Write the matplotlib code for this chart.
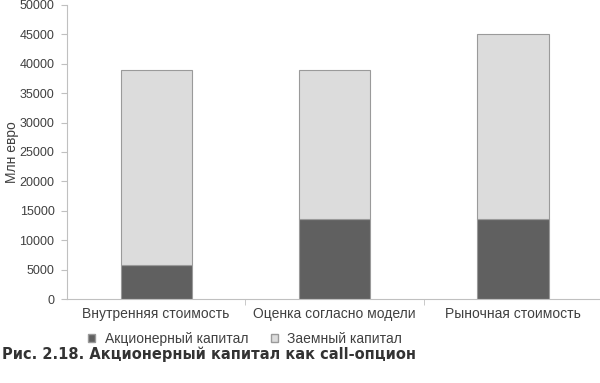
import numpy as np
import matplotlib.pyplot as plt
from matplotlib.patches import Patch

plt.rcParams['font.family'] = ['Liberation Sans', 'DejaVu Sans']

categories = ['Внутренняя стоимость', 'Оценка согласно модели', 'Рыночная стоимость']
equity = [5800, 13600, 13600]
debt = [33200, 25400, 31400]
yticks = [0, 5000, 10000, 15000, 20000, 25000, 30000, 35000, 40000, 45000, 50000]

dark = '#606060'
light = '#dcdcdc'
edge = '#9a9a9a'
txt = '#404040'

fig = plt.figure(figsize=(6, 3.83), dpi=100)
ax = fig.add_axes([67 / 600, 1 - 299 / 383, 535 / 600, 294 / 383])

x = np.arange(len(categories))
ax.bar(x, equity, width=0.40, color=dark, edgecolor=edge, linewidth=0.8)
ax.bar(x, debt, bottom=equity, width=0.40, color=light, edgecolor=edge, linewidth=0.8)

ax.set_xlim(-0.5, 2.5)
ax.set_ylim(0, 50000)
ax.set_yticks(yticks)
ax.set_yticklabels([str(v) for v in yticks], fontsize=9, color=txt)
ax.set_xticks(x)
ax.set_xticklabels(categories, fontsize=10, color=txt)
ax.tick_params(axis='x', length=0, pad=6)
ax.set_xticks([0.5, 1.5], minor=True)
ax.tick_params(axis='x', which='minor', length=4, color='#c0c0c0', direction='out')
ax.tick_params(axis='y', length=4, color='#c0c0c0', pad=5)

for s in ['top', 'right']:
    ax.spines[s].set_visible(False)
ax.spines['left'].set_color('#c0c0c0')
ax.spines['bottom'].set_color('#c0c0c0')

ax.set_ylabel('Млн евро', fontsize=10, color=txt)
ax.yaxis.set_label_coords(-0.09, 0.5)

# legend below the category labels
handles = [Patch(facecolor=dark, edgecolor=edge, label='Акционерный капитал'),
           Patch(facecolor=light, edgecolor=edge, label='Заемный капитал')]
fig.legend(handles=handles, loc='center left', bbox_to_anchor=(80 / 600, 1 - 339 / 383),
           ncol=2, frameon=False, fontsize=10, handlelength=0.5, handleheight=0.5,
           handletextpad=0.7, columnspacing=1.6, labelcolor=txt, borderpad=0.1)

fig.text(0.003, 1 - 354 / 383, 'Рис. 2.18. Акционерный капитал как call-опцион',
         fontsize=10.5, fontweight='bold', color='#333333', va='center',
         family='DejaVu Sans')

fig.savefig('out.png', dpi=100)
